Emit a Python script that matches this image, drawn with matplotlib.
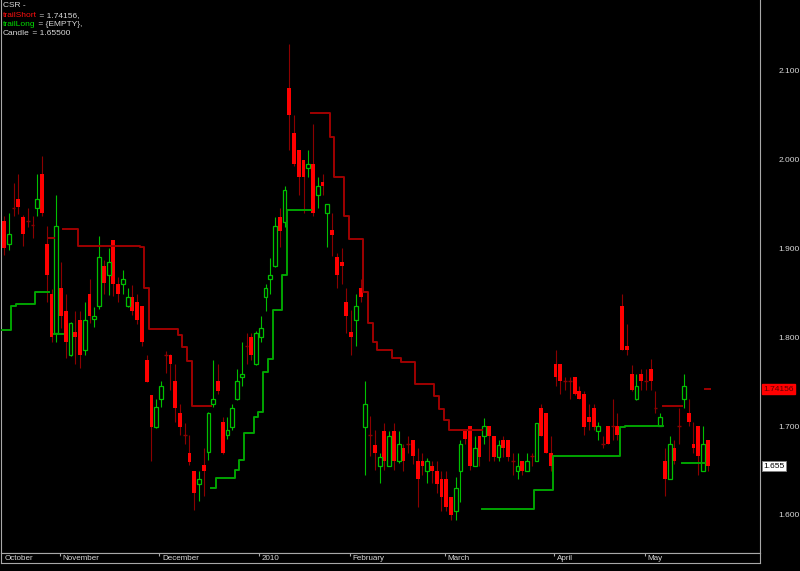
import numpy as np
import matplotlib
matplotlib.use("Agg")
import matplotlib.pyplot as plt
from matplotlib.transforms import blended_transform_factory

# ---- data: daily CSR candles, 15 Oct 2009 .. 20 May 2010 (bar index 0..148)
opens = [
    1.931, 1.905, 1.945, 1.955, 1.935, 1.931, 1.926, 1.945, 1.984, 1.905,
    1.849, 1.805, 1.855, 1.829, 1.780, 1.806, 1.819, 1.785, 1.849, 1.820,
    1.835, 1.880, 1.870, 1.909, 1.860, 1.860, 1.835, 1.845, 1.840, 1.835,
    1.774, 1.735, 1.699, 1.730, 1.780, 1.780, 1.751, 1.715, 1.690, 1.670,
    1.650, 1.635, 1.656, 1.671, 1.725, 1.751, 1.705, 1.690, 1.699, 1.730,
    1.755, 1.790, 1.800, 1.770, 1.800, 1.845, 1.865, 1.880, 1.935, 1.930,
    2.080, 2.030, 2.010, 1.999, 1.990, 1.995, 1.960, 1.975, 1.940, 1.920,
    1.890, 1.885, 1.840, 1.806, 1.819, 1.855, 1.699, 1.690, 1.679, 1.655,
    1.695, 1.655, 1.695, 1.661, 1.675, 1.680, 1.684, 1.661, 1.661, 1.650,
    1.655, 1.650, 1.640, 1.640, 1.620, 1.605, 1.650, 1.695, 1.700, 1.655,
    1.689, 1.689, 1.700, 1.689, 1.665, 1.684, 1.684, 1.661, 1.650, 1.661,
    1.650, 1.666, 1.661, 1.720, 1.715, 1.670, 1.770, 1.770, 1.751, 1.751,
    1.755, 1.740, 1.736, 1.710, 1.720, 1.695, 1.680, 1.700, 1.700, 1.700,
    1.835, 1.790, 1.759, 1.730, 1.759, 1.751, 1.764, 1.720, 1.700, 1.661,
    1.640, 1.675, 1.700, 1.730, 1.715, 1.680, 1.700, 1.650, 1.684,
]
highs = [
    1.936, 1.940, 1.973, 1.983, 1.937, 1.945, 1.936, 1.983, 2.004, 1.925,
    1.854, 1.960, 1.885, 1.848, 1.817, 1.829, 1.829, 1.840, 1.865, 1.834,
    1.914, 1.887, 1.900, 1.909, 1.868, 1.875, 1.855, 1.859, 1.849, 1.835,
    1.780, 1.735, 1.730, 1.751, 1.784, 1.781, 1.770, 1.725, 1.703, 1.690,
    1.650, 1.649, 1.675, 1.716, 1.774, 1.770, 1.710, 1.710, 1.725, 1.764,
    1.795, 1.805, 1.805, 1.807, 1.824, 1.860, 1.889, 1.935, 1.945, 1.970,
    2.130, 2.050, 2.010, 1.999, 2.010, 2.040, 1.980, 1.984, 1.950, 1.940,
    1.895, 1.900, 1.855, 1.830, 1.849, 1.865, 1.751, 1.711, 1.696, 1.670,
    1.703, 1.694, 1.704, 1.694, 1.680, 1.689, 1.684, 1.675, 1.670, 1.664,
    1.661, 1.661, 1.649, 1.649, 1.620, 1.643, 1.684, 1.695, 1.700, 1.689,
    1.689, 1.709, 1.700, 1.689, 1.684, 1.689, 1.684, 1.670, 1.670, 1.661,
    1.670, 1.670, 1.704, 1.725, 1.715, 1.689, 1.785, 1.770, 1.755, 1.755,
    1.755, 1.745, 1.740, 1.725, 1.725, 1.705, 1.689, 1.700, 1.730, 1.715,
    1.849, 1.815, 1.769, 1.759, 1.764, 1.764, 1.775, 1.740, 1.715, 1.675,
    1.689, 1.684, 1.720, 1.759, 1.730, 1.705, 1.700, 1.700, 1.684,
]
lows = [
    1.892, 1.898, 1.936, 1.938, 1.902, 1.924, 1.911, 1.936, 1.936, 1.840,
    1.795, 1.795, 1.810, 1.776, 1.779, 1.770, 1.765, 1.780, 1.816, 1.811,
    1.832, 1.849, 1.847, 1.846, 1.840, 1.849, 1.834, 1.825, 1.815, 1.790,
    1.749, 1.661, 1.698, 1.721, 1.760, 1.741, 1.705, 1.690, 1.680, 1.656,
    1.606, 1.616, 1.621, 1.662, 1.722, 1.736, 1.669, 1.685, 1.696, 1.729,
    1.745, 1.770, 1.774, 1.769, 1.795, 1.829, 1.849, 1.879, 1.901, 1.924,
    2.010, 1.992, 1.960, 1.940, 1.980, 1.936, 1.945, 1.960, 1.901, 1.891,
    1.855, 1.860, 1.805, 1.780, 1.790, 1.840, 1.645, 1.666, 1.651, 1.636,
    1.651, 1.655, 1.651, 1.659, 1.650, 1.670, 1.657, 1.609, 1.645, 1.636,
    1.636, 1.625, 1.605, 1.605, 1.594, 1.594, 1.615, 1.680, 1.651, 1.655,
    1.655, 1.680, 1.661, 1.661, 1.661, 1.665, 1.661, 1.645, 1.640, 1.645,
    1.650, 1.655, 1.661, 1.689, 1.670, 1.650, 1.745, 1.736, 1.741, 1.731,
    1.735, 1.730, 1.690, 1.696, 1.696, 1.684, 1.675, 1.680, 1.684, 1.684,
    1.785, 1.780, 1.740, 1.729, 1.741, 1.741, 1.741, 1.715, 1.700, 1.621,
    1.640, 1.657, 1.680, 1.720, 1.700, 1.670, 1.645, 1.650, 1.650,
]
closes = [
    1.900, 1.916, 1.945, 1.946, 1.916, 1.931, 1.926, 1.955, 1.940, 1.870,
    1.800, 1.925, 1.824, 1.794, 1.816, 1.800, 1.780, 1.819, 1.824, 1.824,
    1.890, 1.861, 1.885, 1.860, 1.849, 1.865, 1.845, 1.829, 1.819, 1.794,
    1.750, 1.699, 1.721, 1.745, 1.780, 1.770, 1.720, 1.699, 1.690, 1.660,
    1.625, 1.640, 1.650, 1.715, 1.730, 1.740, 1.670, 1.696, 1.720, 1.751,
    1.759, 1.790, 1.780, 1.805, 1.810, 1.855, 1.870, 1.925, 1.919, 1.966,
    2.050, 1.995, 1.980, 1.980, 1.995, 1.940, 1.970, 1.970, 1.950, 1.915,
    1.870, 1.880, 1.824, 1.800, 1.835, 1.845, 1.725, 1.690, 1.670, 1.665,
    1.661, 1.689, 1.661, 1.680, 1.661, 1.680, 1.666, 1.640, 1.655, 1.661,
    1.650, 1.635, 1.620, 1.609, 1.600, 1.630, 1.680, 1.685, 1.655, 1.675,
    1.665, 1.700, 1.689, 1.665, 1.679, 1.675, 1.665, 1.661, 1.655, 1.650,
    1.661, 1.666, 1.704, 1.689, 1.670, 1.655, 1.755, 1.751, 1.751, 1.751,
    1.736, 1.731, 1.699, 1.705, 1.699, 1.700, 1.680, 1.680, 1.700, 1.690,
    1.785, 1.785, 1.741, 1.745, 1.751, 1.751, 1.751, 1.720, 1.710, 1.640,
    1.680, 1.661, 1.700, 1.745, 1.705, 1.675, 1.666, 1.680, 1.655,
]

# trailing stops as (first bar, last bar, level); bars without a level are empty
trail_long_runs = [
    (0, 1, 1.808), (2, 2, 1.835), (3, 6, 1.837), (7, 9, 1.851), (11, 12, 1.803),
    (44, 44, 1.630), (45, 48, 1.642), (49, 49, 1.651), (50, 50, 1.662),
    (51, 52, 1.692), (53, 53, 1.710), (54, 54, 1.716), (55, 55, 1.761),
    (56, 56, 1.775), (57, 58, 1.830), (59, 59, 1.870), (60, 64, 1.943),
    (101, 111, 1.607), (112, 115, 1.628), (116, 129, 1.666), (130, 130, 1.699),
    (131, 138, 1.700), (143, 147, 1.659),
]
trail_short_runs = [
    (10, 10, 1.912), (13, 15, 1.922), (16, 28, 1.903), (29, 29, 1.901),
    (30, 30, 1.855), (31, 36, 1.809), (37, 37, 1.802), (38, 38, 1.789),
    (39, 39, 1.773), (40, 43, 1.723),
    (65, 68, 2.052), (69, 69, 2.025), (70, 71, 1.980), (72, 72, 1.936),
    (73, 75, 1.910), (76, 76, 1.851), (77, 77, 1.816), (78, 78, 1.795),
    (79, 79, 1.786), (80, 81, 1.785), (82, 83, 1.776), (84, 86, 1.772),
    (87, 90, 1.747), (91, 91, 1.734), (92, 92, 1.719), (93, 93, 1.707),
    (94, 100, 1.696), (139, 142, 1.723), (148, 148, 1.74156),
]

month_labels = ["October", "November", "December", "2010", "February", "March", "April", "May"]
month_starts = [0, 12, 33, 54, 73, 93, 116, 135]
price_ticks = [1.6, 1.7, 1.8, 1.9, 2.0, 2.1]

last_short = 1.74156
last_close = 1.655

RED = "#ff0000"
DARK_RED = "#8c0000"
GREEN = "#00c000"
GRID = "#a8a8a8"
TXT = "#d8d8d8"
FONT = "Liberation Sans"
FS = 6


def runs_to_series(runs, n):
    vals = np.full(n, np.nan)
    for a, b, v in runs:
        vals[a:b + 1] = v
    return vals


def step_xy(vals):
    # each bar's level spans its whole slot, like the original step plot
    xs, ys = [], []
    for i, v in enumerate(vals):
        xs += [i - 0.5, i + 0.5]
        ys += [v, v]
    return np.array(xs), np.array(ys)


n = len(closes)
o = np.array(opens)
h = np.array(highs)
l = np.array(lows)
c = np.array(closes)
idx = np.arange(n)

W, H = 800, 571
fig = plt.figure(figsize=(W / 100, H / 100), dpi=100, facecolor="black")
plt.rcParams["font.family"] = [FONT, "DejaVu Sans"]

ax = fig.add_axes([1 / W, 18.5 / H, 759 / W, 552.5 / H], facecolor="black")
ax.set_xlim(-0.63, 158.99)
ax.set_ylim(1.5578, 2.1792)

up = c > o
down = c < o
doji = c == o
bw = 0.8

# wicks
ax.vlines(idx[up], l[up], h[up], color=GREEN, lw=0.8, zorder=2)
ax.vlines(idx[~up], l[~up], h[~up], color=DARK_RED, lw=0.8, zorder=2)
# bodies
ax.bar(idx[down], o[down] - c[down], bottom=c[down], width=bw,
       color=RED, linewidth=0, zorder=3)
ax.bar(idx[up], c[up] - o[up], bottom=o[up], width=bw,
       facecolor="black", edgecolor=GREEN, linewidth=0.9, zorder=3)
ax.hlines(c[doji], idx[doji] - bw / 2, idx[doji] + bw / 2, color=DARK_RED, lw=1.0, zorder=3)

# trailing stop lines
xs, ys = step_xy(runs_to_series(trail_long_runs, n))
ax.plot(xs, ys, color="#00a400", lw=1.4, zorder=4)
xs, ys = step_xy(runs_to_series(trail_short_runs, n))
ax.plot(xs, ys, color="#a00000", lw=1.4, zorder=4)

# right price scale
ax.yaxis.tick_right()
ax.set_yticks(price_ticks)
ax.set_yticklabels([f"{p:.3f}" for p in price_ticks])
ax.tick_params(axis="y", length=0, pad=13.3, colors=TXT, labelsize=FS)
ax.set_xticks([])
for s in ["left", "right", "bottom"]:
    ax.spines[s].set_color(GRID)
    ax.spines[s].set_linewidth(0.8)
ax.spines["top"].set_visible(False)

tr = blended_transform_factory(ax.transAxes, ax.transData)
ax.text(1 + 3 / 759, last_short, f"{last_short:.5f}", transform=tr, ha="left", va="center",
        fontsize=FS, color="#5a0000",
        bbox=dict(facecolor=RED, edgecolor=RED, pad=1.0))
ax.text(1 + 3 / 759, last_close, f"{last_close:.3f}", transform=tr, ha="left", va="center",
        fontsize=FS, color="black",
        bbox=dict(facecolor="white", edgecolor="#808080", pad=1.0, linewidth=0.7))

# date strip
axd = fig.add_axes([0.5 / W, 8 / H, 759.5 / W, 10.3 / H], facecolor="black")
axd.set_xlim(ax.get_xlim())
axd.set_ylim(0, 1)
axd.set_xticks([])
axd.set_yticks([])
for s in axd.spines.values():
    s.set_color(GRID)
    s.set_linewidth(0.8)
for k, (lab, m) in enumerate(zip(month_labels, month_starts)):
    if k > 0:
        axd.vlines(m - 0.22, 0.7, 1.0, color=GRID, lw=0.8)
    axd.text(m + 0.34, 0.45, lab, ha="left", va="center", fontsize=5.8, color=TXT)

# title / legend block
def legend_line(y_px, parts):
    t = fig.text(3 / W, 1 - y_px / H, parts[0][0], color=parts[0][1],
                 fontsize=FS, ha="left", va="center")
    for s, col in parts[1:]:
        t = ax.annotate(s, xy=(1, 0.5), xycoords=t, ha="left", va="center",
                        fontsize=FS, color=col, annotation_clip=False)


legend_line(5.8, [("CSR -", TXT)])
legend_line(15.5, [("trailShort", "#ff1010"), (f" = {last_short:.5f},", TXT)])
legend_line(24.7, [("trailLong", "#00e000"), (" = {EMPTY},", TXT)])
legend_line(33.5, [("Candle", TXT), (f" = {last_close:.5f}", TXT)])

fig.savefig("out.png", dpi=100, facecolor="black")
